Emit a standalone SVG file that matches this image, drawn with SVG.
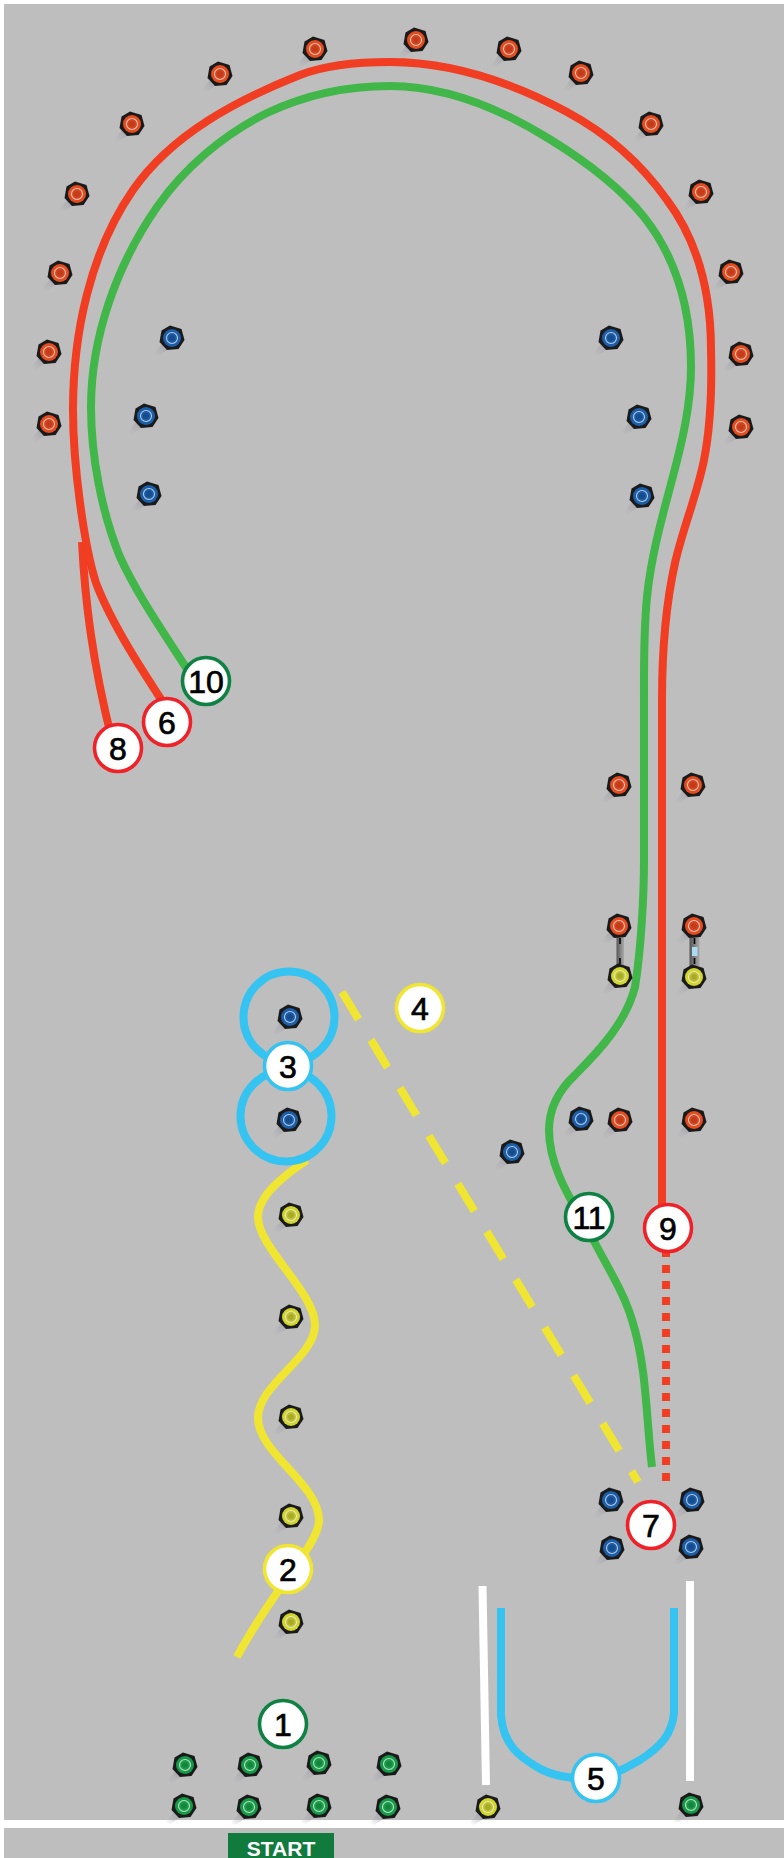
<svg xmlns="http://www.w3.org/2000/svg" width="784" height="1858" viewBox="0 0 784 1858">
<style>
.p{fill:none;stroke-linejoin:round;stroke-linecap:butt;stroke-width:8}
.red{stroke:#f13d22}.grn{stroke:#41b649}.yel{stroke:#f0e632}.cy{stroke:#35c3f1}.wh{stroke:#fff;fill:none;stroke-width:8}
.b{fill:#fff;stroke-width:3.6}
.bg{stroke:#0f8243}.br{stroke:#ee2228}.by{stroke:#f0e632}.bc{stroke:#35c3f1}
.n{font:400 32px "Liberation Sans",Arial,sans-serif;fill:#000;stroke:#000;stroke-width:.7;text-anchor:middle}
.ring{fill:none;stroke:#fff;stroke-opacity:.7;stroke-width:1.1}
</style>
<defs>
<linearGradient id="sh" x1="1" y1="0" x2="0" y2="1"><stop offset="0" stop-color="#8f8f9c" stop-opacity=".95"/><stop offset="1" stop-color="#b0b0b8" stop-opacity="0"/></linearGradient>
<linearGradient id="bar" x1="0" x2="1" y1="0" y2="0"><stop offset="0" stop-color="#555"/><stop offset=".6" stop-color="#8a8a8a"/><stop offset="1" stop-color="#a8a8a8"/></linearGradient>
<g id="base"><path d="M-7,2L-18,16L-14,18L0,9Z" fill="url(#sh)"/><path d="M-2,-12.500L9.500,-9L12.500,2L6.500,11L-5,12L-12.500,4L-10.500,-7.500Z" fill="#1a1a1a"/></g>
<g id="c-red"><use href="#base"/><circle r="9" fill="#e64c1e"/><circle r="6" fill="#d2451f"/><circle r="5.500" class="ring"/><circle r="2.800" fill="#c03c1a"/></g>
<g id="c-blue"><use href="#base"/><circle r="9" fill="#1c5ea9"/><circle r="6" fill="#1a5aa2"/><circle r="5.500" class="ring"/><circle r="2.800" fill="#164b8c"/></g>
<g id="c-green"><use href="#base"/><circle r="9" fill="#169a48"/><circle r="6" fill="#1c9c4a"/><circle r="5.500" class="ring"/><circle r="2.800" fill="#13863c"/></g>
<g id="c-yel"><use href="#base"/><circle r="9" fill="#d2d62a"/><circle r="6" fill="#bcbf34"/><circle r="5.500" class="ring"/><circle r="2.800" fill="#a8aa24"/></g>
</defs>
<rect x="4" y="4" width="780" height="1854" fill="#bebebe"/>
<g id="connectors">
<path id="line-start" class="wh" d="M0,1824H784"/>
<path class="wh" d="M482.500,1586L486,1785"/>
<path class="wh" d="M690,1581V1781"/>
<path id="path-2" class="p yel" d="M307,1160C285,1175 258,1195 258,1217C258,1248 315,1292 315,1325C315,1358 258,1384 258,1418C258,1453 319,1484 319,1520C319,1545 272,1590 237,1657"/>
<path id="path-3a" class="p cy" d="M289,1017m-45.500,0a45.500,45.500 0 1 0 91,0a45.500,45.500 0 1 0 -91,0"/>
<path id="path-3b" class="p cy" d="M286,1116m-45.500,0a45.500,45.500 0 1 0 91,0a45.500,45.500 0 1 0 -91,0"/>
<path id="path-4" class="p yel" stroke-dasharray="32 24" d="M342,992L638,1482"/>
<path id="path-5" class="p cy" d="M501,1608V1715C503,1745 520,1757 537,1767C550,1775 565,1778 596,1780C612,1775 630,1766 640,1760C660,1747 672,1735 674,1713V1608"/>
<path id="path-8" class="p red" d="M82,542C85,600 92,660 112,740"/>
<path id="path-6-9" class="p red" d="M170,713C145,675 112,625 96,583C84,545 73,465 73,410C73,334 90,252 133,190C172,134 237,100 300,75C328,64 360,62 390,62C451,62 513,83 567,112C606,133 641.500,164 667,200C700,244 711,298 711,350C712,387 711,424 704,460C697,495 683,528 675,563C665,608 662,655 662,700V1240"/>
<path id="path-9-dots" class="p red" stroke-dasharray="8 8" d="M666,1249V1481"/>
<path id="path-10-11" class="p grn" d="M192,677C167.600,638 139.300,599 120,557C102,513 91,457 91,407C91,337 117,264.500 157,207C184,168 224,134 267,113C305,95 348,86 390,86C447,86 503,110 551,140C585,161 619,186 644,217C678,260 691,312 691,367C691,405 682,443 672,480C661.600,519 651,557 647,597C643.500,632 644,665 644,700V860C644,895 641,950 635,987C626,1022 600,1050 575,1075C558,1091 549,1108 549,1130C549,1171 576,1207 595,1243C608,1268 624,1293 632,1320C647,1367 646,1418 652,1467"/>
</g>
<g id="bars">
<g id="bar-left"><rect x="616.500" y="935" width="7.500" height="34" fill="url(#bar)"/><path d="M620,938V944M620,958V964" stroke="#000" stroke-width="1.600"/></g>
<g id="bar-right"><rect x="689.500" y="935" width="10" height="34" fill="url(#bar)"/><path d="M694.500,938V944M694.500,958V964" stroke="#000" stroke-width="1.600"/><rect x="692" y="947" width="5.500" height="9" fill="#a8dcf2"/></g>
</g>
<g id="cones-red">
<g id="r1" transform="translate(49,424)"><use href="#c-red"/></g>
<g id="r2" transform="translate(49,352)"><use href="#c-red"/></g>
<g id="r3" transform="translate(60,273)"><use href="#c-red"/></g>
<g id="r4" transform="translate(77,194)"><use href="#c-red"/></g>
<g id="r5" transform="translate(132,124)"><use href="#c-red"/></g>
<g id="r6" transform="translate(220,74)"><use href="#c-red"/></g>
<g id="r7" transform="translate(315,49)"><use href="#c-red"/></g>
<g id="r8" transform="translate(416,40)"><use href="#c-red"/></g>
<g id="r9" transform="translate(509,49)"><use href="#c-red"/></g>
<g id="r10" transform="translate(581,73)"><use href="#c-red"/></g>
<g id="r11" transform="translate(651,124)"><use href="#c-red"/></g>
<g id="r12" transform="translate(701,192)"><use href="#c-red"/></g>
<g id="r13" transform="translate(731,272)"><use href="#c-red"/></g>
<g id="r14" transform="translate(741,354)"><use href="#c-red"/></g>
<g id="r15" transform="translate(741,427)"><use href="#c-red"/></g>
<g id="r16" transform="translate(619,785)"><use href="#c-red"/></g>
<g id="r17" transform="translate(693,785)"><use href="#c-red"/></g>
<g id="r18" transform="translate(619,926)"><use href="#c-red"/></g>
<g id="r19" transform="translate(694,926)"><use href="#c-red"/></g>
<g id="r20" transform="translate(620,1120)"><use href="#c-red"/></g>
<g id="r21" transform="translate(694,1120)"><use href="#c-red"/></g>
</g>
<g id="cones-blue">
<g id="u1" transform="translate(172,338)"><use href="#c-blue"/></g>
<g id="u2" transform="translate(146,416)"><use href="#c-blue"/></g>
<g id="u3" transform="translate(149,494)"><use href="#c-blue"/></g>
<g id="u4" transform="translate(611,338)"><use href="#c-blue"/></g>
<g id="u5" transform="translate(639,417)"><use href="#c-blue"/></g>
<g id="u6" transform="translate(642,496)"><use href="#c-blue"/></g>
<g id="u7" transform="translate(290,1017)"><use href="#c-blue"/></g>
<g id="u8" transform="translate(289,1120)"><use href="#c-blue"/></g>
<g id="u9" transform="translate(581,1119)"><use href="#c-blue"/></g>
<g id="u10" transform="translate(512,1152)"><use href="#c-blue"/></g>
<g id="u11" transform="translate(611,1500)"><use href="#c-blue"/></g>
<g id="u12" transform="translate(692,1500)"><use href="#c-blue"/></g>
<g id="u13" transform="translate(612,1548)"><use href="#c-blue"/></g>
<g id="u14" transform="translate(691,1547)"><use href="#c-blue"/></g>
</g>
<g id="cones-yellow">
<g id="y1" transform="translate(620,976)"><use href="#c-yel"/></g>
<g id="y2" transform="translate(694,977)"><use href="#c-yel"/></g>
<g id="y3" transform="translate(291,1215)"><use href="#c-yel"/></g>
<g id="y4" transform="translate(291,1317)"><use href="#c-yel"/></g>
<g id="y5" transform="translate(291,1417)"><use href="#c-yel"/></g>
<g id="y6" transform="translate(291,1516)"><use href="#c-yel"/></g>
<g id="y7" transform="translate(291,1622)"><use href="#c-yel"/></g>
<g id="y8" transform="translate(488,1807)"><use href="#c-yel"/></g>
</g>
<g id="cones-green">
<g id="g1" transform="translate(185,1765)"><use href="#c-green"/></g>
<g id="g2" transform="translate(250,1765)"><use href="#c-green"/></g>
<g id="g3" transform="translate(319,1763)"><use href="#c-green"/></g>
<g id="g4" transform="translate(389,1764)"><use href="#c-green"/></g>
<g id="g5" transform="translate(184,1806)"><use href="#c-green"/></g>
<g id="g6" transform="translate(249,1807)"><use href="#c-green"/></g>
<g id="g7" transform="translate(319,1806)"><use href="#c-green"/></g>
<g id="g8" transform="translate(388,1807)"><use href="#c-green"/></g>
<g id="g9" transform="translate(691,1805)"><use href="#c-green"/></g>
</g>
<g id="badge-1"><circle class="b bg" cx="283" cy="1724" r="23.500"/><text class="n" x="283" y="1735.500">1</text></g>
<g id="badge-2"><circle class="b by" cx="288" cy="1569" r="23.500"/><text class="n" x="288" y="1580.500">2</text></g>
<g id="badge-3"><circle class="b bc" cx="288" cy="1066" r="23.500"/><text class="n" x="288" y="1077.500">3</text></g>
<g id="badge-4"><circle class="b by" cx="420" cy="1008" r="23.500"/><text class="n" x="420" y="1019.500">4</text></g>
<g id="badge-5"><circle class="b bc" cx="596" cy="1778" r="23.500"/><text class="n" x="596" y="1789.500">5</text></g>
<g id="badge-6"><circle class="b br" cx="167" cy="722" r="23.500"/><text class="n" x="167" y="733.500">6</text></g>
<g id="badge-7"><circle class="b br" cx="651" cy="1525" r="23.500"/><text class="n" x="651" y="1536.500">7</text></g>
<g id="badge-8"><circle class="b br" cx="118" cy="748" r="23.500"/><text class="n" x="118" y="759.500">8</text></g>
<g id="badge-9"><circle class="b br" cx="668" cy="1228" r="23.500"/><text class="n" x="668" y="1239.500">9</text></g>
<g id="badge-10"><circle class="b bg" cx="206" cy="681" r="23.500"/><text class="n" x="206" y="692.500">10</text></g>
<g id="badge-11"><circle class="b bg" cx="589" cy="1217" r="23.500"/><text class="n" x="589" y="1228.500">11</text></g>
<g id="start"><rect x="228" y="1833" width="106" height="25" fill="#117b3e"/><text x="281" y="1855.500" font-family="'Liberation Sans',Arial,sans-serif" font-weight="700" font-size="21" fill="#fff" text-anchor="middle">START</text></g>
</svg>
